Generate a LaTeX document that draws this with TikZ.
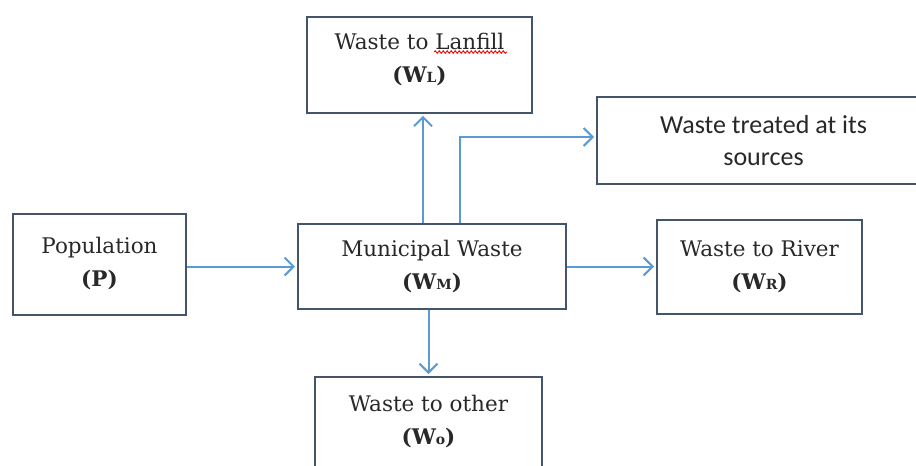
\documentclass[tikz,border=0pt]{standalone}
\usepackage{fontspec}
\setmainfont{DejaVu Serif}
\newfontfamily\calfont{Carlito}
\usetikzlibrary{arrows.meta,decorations.pathmorphing}

\definecolor{boxline}{RGB}{68,84,106}
\definecolor{flowblue}{RGB}{91,155,213}
\definecolor{textgray}{RGB}{40,40,40}

\newcommand{\wsub}[1]{\textbf{(W{\fontsize{14}{14}\selectfont #1})}}

\tikzset{
  box/.style={draw=boxline, line width=2pt, fill=white, align=center,
    inner sep=0pt, text=textgray, font=\fontsize{21.5}{33}\selectfont},
  flow/.style={draw=flowblue, line width=2pt, shorten >=2pt,
    -{Straight Barb[length=9pt,width=18pt,line width=2pt]}},
}

\begin{document}
\begin{tikzpicture}[x=1pt,y=-1pt]
  \clip (0,0) rectangle (916,466);
  \node[box, minimum width=225pt, anchor=north, inner ysep=16pt, text depth=14.5pt] (lan) at (419.5,16) {Waste to Lanfill\\\wsub{L}};
  \node[box, minimum width=333pt, minimum height=87pt, font=\calfont\fontsize{26}{32}\selectfont] (treat) at (763.5,140.5) {Waste treated at its\\sources};
  \node[box, minimum width=173pt, minimum height=101pt] (pop) at (99.5,264) {Population\\\textbf{(P)}};
  \node[box, minimum width=268pt, minimum height=85pt] (mun) at (432,266.5) {Municipal Waste\\\wsub{M}};
  \node[box, minimum width=205pt, minimum height=94pt] (riv) at (759.5,267) {Waste to River\\\wsub{R}};
  \node[box, minimum width=227pt, anchor=north, inner ysep=18pt, text depth=60pt] (oth) at (428.5,376) {Waste to other\\\wsub{o}};

  % spell-check mark
  \draw[red, line width=0.9pt, decorate, decoration={snake, amplitude=1.3pt, segment length=4pt}] (434,52) -- (507,52);

  \draw[flow] (pop.east |- mun) -- (mun);
  \draw[flow] (mun.east) -- (mun.east -| riv.west);
  \draw[flow] ([xshift=-9pt]mun.north) -- ([xshift=-9pt]mun.north |- lan.south);
  \draw[flow] ([xshift=28pt]mun.north) |- ([yshift=3.5pt]treat.west);
  \draw[flow] (oth.north |- mun.south) -- (oth.north);
\end{tikzpicture}
\end{document}
